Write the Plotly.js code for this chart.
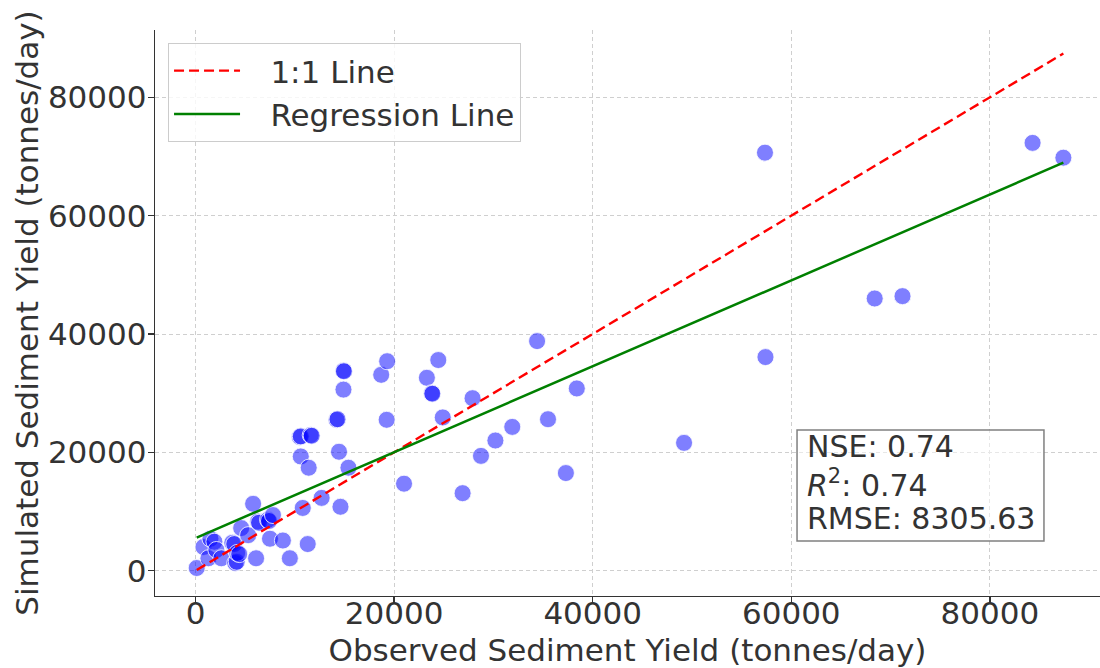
<!DOCTYPE html>
<html>
<head>
<meta charset="utf-8">
<script src="https://cdn.plot.ly/plotly-3.0.1.min.js"></script>
<style>html,body{margin:0;padding:0;background:#fff;}#chart{width:1100px;height:668px;}</style>
</head>
<body>
<div id="chart"></div>
<script>
// Observed vs simulated sediment yield (tonnes/day)
const observed = [120, 800, 1300, 1500, 1900, 2100, 2600, 3700, 3900, 4000, 4150, 4200, 4400, 4600, 5300, 5800, 6100, 6300, 6400, 7300, 7400, 7800, 7500, 8800, 9500, 11300, 10800, 12700, 14600, 10600, 10500, 10600, 11600, 11700, 11400, 14450, 15400, 14200, 14300, 14900, 14950, 14900, 18700, 19300, 19250, 21000, 23300, 23800, 23850, 24450, 24900, 26900, 27900, 28750, 30200, 31900, 34400, 35500, 37300, 38400, 49200, 57350, 57400, 68400, 71200, 84300, 87400];
const simulated = [450, 4000, 2100, 5400, 4900, 3500, 2100, 4700, 4500, 1300, 1500, 3000, 2800, 7200, 6000, 11300, 2100, 8300, 8100, 8600, 8400, 9400, 5400, 5100, 2100, 4500, 10600, 12300, 10800, 19300, 22600, 22700, 22900, 22800, 17400, 20100, 17400, 25500, 25600, 33800, 33700, 30600, 33100, 35400, 25500, 14700, 32600, 30000, 29900, 35600, 25900, 13100, 29150, 19400, 22000, 24300, 38800, 25600, 16500, 30800, 21600, 70650, 36100, 46000, 46400, 72300, 69800];

// Regression line
const regSlope = 0.726;
const regIntercept = 5500;

// Statistics shown in the box
const statLines = ['NSE: 0.74', '<i>R</i><sup>2</sup>: 0.74', 'RMSE: 8305.63'];

const legendNames = ['1:1 Line', 'Regression Line'];

const xTicks = [0, 20000, 40000, 60000, 80000];
const yTicks = [0, 20000, 40000, 60000, 80000];

const xMin = Math.min(...observed);
const xMax = Math.max(...observed);

const font = 'DejaVu Sans, Verdana, sans-serif';
const textColor = '#333333';
const fs = 31;
const pad = '\u2002\u00A0';

const traces = [
  {
    type: 'scatter', mode: 'markers', x: observed, y: simulated, showlegend: false,
    marker: {size: 17, color: 'rgba(0,0,255,0.5)', line: {color: 'rgba(255,255,255,0.8)', width: 1}},
    hoverinfo: 'x+y'
  },
  {
    type: 'scatter', mode: 'lines', name: pad + legendNames[0],
    x: [xMin, xMax], y: [xMin, xMax],
    line: {color: '#ff0000', width: 2.4, dash: '10px,5px'}
  },
  {
    type: 'scatter', mode: 'lines', name: pad + legendNames[1],
    x: [xMin, xMax], y: [regIntercept + regSlope * xMin, regIntercept + regSlope * xMax],
    line: {color: '#008000', width: 2.5}
  }
];

const axisCommon = {
  showline: true, linecolor: '#333333', linewidth: 1.3,
  ticks: 'outside', ticklen: 6, tickwidth: 1.3, tickcolor: '#333333',
  showgrid: true, gridcolor: '#cfcfcf', gridwidth: 1, griddash: '4px,3px',
  zeroline: false, tickformat: 'd', tickmode: 'array',
  tickfont: {family: font, size: fs, color: textColor},
  mirror: false, automargin: false
};

// stats box rows (paper coordinates of each text line)
const statY = [0.2633, 0.1979, 0.1378];
const annotations = statLines.map((t, i) => ({
  xref: 'paper', yref: 'paper', x: 0.6878, y: statY[i], xanchor: 'left', yanchor: 'middle',
  align: 'left', showarrow: false, text: t,
  font: {family: font, size: 30, color: textColor}
}));

const layout = {
  width: 1100, height: 668,
  margin: {l: 155, r: 0, t: 30, b: 72},
  paper_bgcolor: '#ffffff', plot_bgcolor: '#ffffff',
  font: {family: font, color: textColor},
  xaxis: Object.assign({}, axisCommon, {
    range: [-4080, 91090], tickvals: xTicks, ticklabelstandoff: -17,
    title: {text: 'Observed Sediment Yield (tonnes/day)', font: {family: font, size: fs, color: textColor}, standoff: 22}
  }),
  yaxis: Object.assign({}, axisCommon, {
    range: [-4280, 91380], tickvals: yTicks, ticklabelstandoff: -5,
    title: {text: 'Simulated Sediment Yield (tonnes/day)', font: {family: font, size: fs, color: textColor}, standoff: 0}
  }),
  legend: {
    x: 0.0138, y: 0.977, xanchor: 'left', yanchor: 'top',
    bgcolor: 'rgba(255,255,255,0.8)', bordercolor: '#cccccc', borderwidth: 1,
    font: {family: font, size: fs, color: textColor},
    itemwidth: 66, tracegroupgap: 0
  },
  shapes: [{
    type: 'rect', xref: 'paper', yref: 'paper',
    x0: 0.6794, x1: 0.9407, y0: 0.0972, y1: 0.2933,
    line: {color: '#808080', width: 1.5}, fillcolor: 'rgba(255,255,255,0.5)', layer: 'above'
  }],
  annotations: annotations,
  showlegend: true
};

Plotly.newPlot('chart', traces, layout, {displayModeBar: false, staticPlot: true});
</script>
</body>
</html>
